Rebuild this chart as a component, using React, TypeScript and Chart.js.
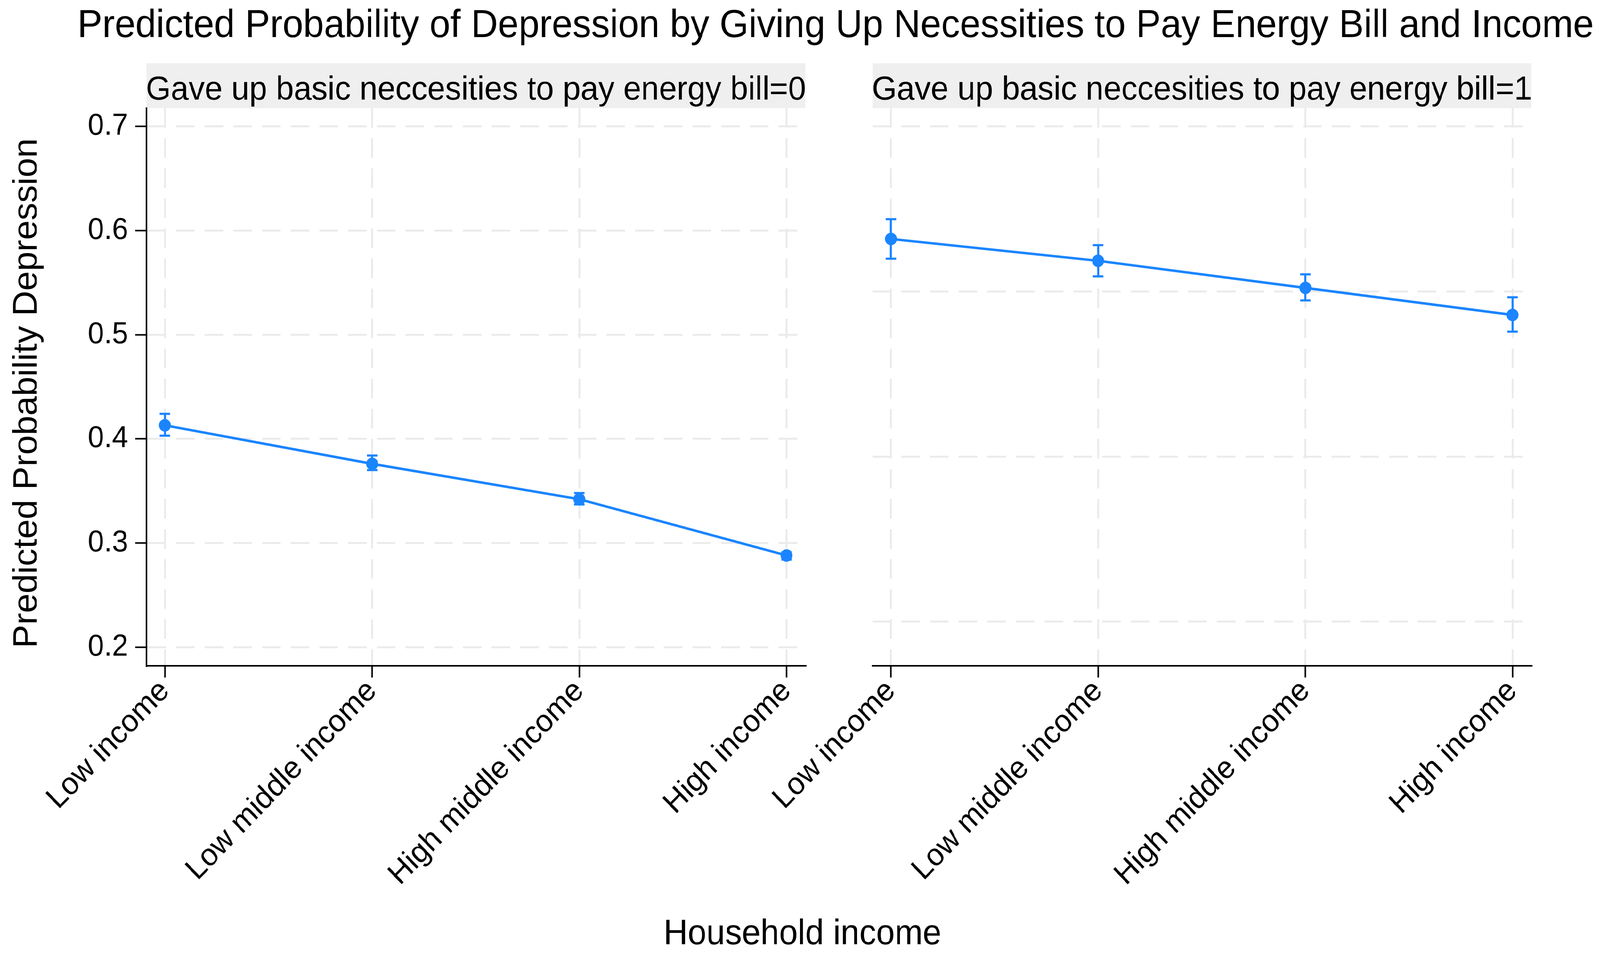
import React, { useRef, useEffect } from "react";
import { Chart, registerables, ChartConfiguration, Plugin } from "chart.js";

Chart.register(...registerables);

// categories and values
const incomeLevels = ["Low income", "Low middle income", "High middle income", "High income"];

const probNoGiveUp = [0.413, 0.376, 0.342, 0.288];
const lowerNoGiveUp = [0.403, 0.37, 0.337, 0.284];
const upperNoGiveUp = [0.424, 0.384, 0.348, 0.291];

const probGaveUp = [0.592, 0.571, 0.545, 0.519];
const lowerGaveUp = [0.573, 0.556, 0.533, 0.503];
const upperGaveUp = [0.611, 0.586, 0.558, 0.536];

const yTicks = [0.2, 0.3, 0.4, 0.5, 0.6, 0.7];
// the right panel's grid does not line up with the left axis ticks
const rightGridTicks = [0.2245, 0.383, 0.5415, 0.7];

const MAIN_TITLE =
  "Predicted Probability of Depression by Giving Up Necessities to Pay Energy Bill and Income";
const Y_TITLE = "Predicted Probability Depression";
const X_TITLE = "Household income";
const STRIP_0 = "Gave up basic neccesities to pay energy bill=0";
const STRIP_1 = "Gave up basic neccesities to pay energy bill=1";

const FONT = "'Liberation Sans', Arial, Helvetica, sans-serif";
const BLUE = "#1a85ff";
const GRID = "#ebebeb";
const W = 4293;
const H = 2443;
const RIGHT_LEFT = 2000;
const STRIP_TOP = 162;

Chart.defaults.font.family = FONT;

const buildConfig = (
  values: number[],
  lower: number[],
  upper: number[],
  stripLabel: string,
  isLeft: boolean
): ChartConfiguration<"line"> => {
  const errorBars: Plugin<"line"> = {
    id: "errorBars",
    beforeDatasetsDraw(chart) {
      const { ctx, scales } = chart;
      ctx.save();
      ctx.strokeStyle = BLUE;
      ctx.lineWidth = 5.5;
      values.forEach((_, i) => {
        const x = scales.x.getPixelForValue(i);
        const yLo = scales.y.getPixelForValue(lower[i]);
        const yHi = scales.y.getPixelForValue(upper[i]);
        ctx.beginPath();
        ctx.moveTo(x, yLo);
        ctx.lineTo(x, yHi);
        ctx.moveTo(x - 14, yLo);
        ctx.lineTo(x + 14, yLo);
        ctx.moveTo(x - 14, yHi);
        ctx.lineTo(x + 14, yHi);
        ctx.stroke();
      });
      ctx.restore();
    },
  };

  const panelText: Plugin<"line"> = {
    id: "panelText",
    beforeDraw(chart) {
      const { ctx, chartArea } = chart;
      ctx.save();
      ctx.fillStyle = "#efefef";
      ctx.fillRect(
        chartArea.left,
        STRIP_TOP,
        chartArea.right - chartArea.left,
        chartArea.top - STRIP_TOP
      );
      ctx.fillStyle = "#000";
      ctx.textAlign = "center";
      ctx.textBaseline = "alphabetic";
      ctx.font = `86px ${FONT}`;
      ctx.fillText(stripLabel, (chartArea.left + chartArea.right) / 2, 255);
      if (isLeft) {
        ctx.font = `100px ${FONT}`;
        ctx.fillText(MAIN_TITLE, 2242, 95);
        ctx.font = `90px ${FONT}`;
        ctx.fillText(X_TITLE, 2153, 2418);
        ctx.translate(98, 1007);
        ctx.rotate(-Math.PI / 2);
        ctx.fillText(Y_TITLE, 0, 0);
      }
      ctx.restore();
    },
  };

  return {
    type: "line",
    data: {
      datasets: [
        {
          data: values.map((v, i) => ({ x: i, y: v })),
          borderColor: BLUE,
          backgroundColor: BLUE,
          borderWidth: 6.5,
          tension: 0,
          pointRadius: 16,
          pointBorderWidth: 0,
          pointBackgroundColor: BLUE,
        },
      ],
    },
    options: {
      animation: false,
      responsive: false,
      events: [],
      layout: {
        padding: {
          top: 277,
          left: 0,
          bottom: 0,
          right: isLeft ? W - 2161 : W - RIGHT_LEFT - 2109,
        },
      },
      plugins: {
        legend: { display: false },
        tooltip: { enabled: false },
      },
      scales: {
        x: {
          type: "linear",
          min: -0.089,
          max: 3.091,
          afterBuildTicks: (s) => {
            s.ticks = incomeLevels.map((_, i) => ({ value: i }));
          },
          afterFit: (s) => {
            s.height = H - 1705;
          },
          ticks: {
            autoSkip: false,
            minRotation: 45,
            maxRotation: 45,
            padding: -12,
            color: "#000",
            font: { size: 80 },
            callback: (v) => incomeLevels[Number(v)] ?? "",
          },
          grid: {
            color: GRID,
            lineWidth: 5,
            tickLength: 30,
            tickColor: "#000",
            tickWidth: 4,
          },
          border: { display: true, color: "#000", width: 4, dash: [50, 27] },
        },
        y: {
          type: "linear",
          min: 0.182,
          max: 0.7176,
          afterBuildTicks: (s) => {
            s.ticks = (isLeft ? yTicks : rightGridTicks).map((v) => ({ value: v }));
          },
          afterFit: (s) => {
            s.width = isLeft ? 393 : 2341 - RIGHT_LEFT;
          },
          ticks: {
            display: isLeft,
            padding: 19,
            color: "#000",
            font: { size: 78 },
            callback: (v) => Number(v).toFixed(1),
          },
          grid: {
            color: GRID,
            lineWidth: 5,
            drawTicks: isLeft,
            tickLength: 30,
            tickColor: "#000",
            tickWidth: 4,
          },
          border: { display: isLeft, color: "#000", width: 4, dash: [50, 27] },
        },
      },
    },
    plugins: [panelText, errorBars],
  };
};

const App = () => {
  const leftRef = useRef<HTMLCanvasElement | null>(null);
  const rightRef = useRef<HTMLCanvasElement | null>(null);

  // the visible viewport can be narrower than the nominal size, so fit to it
  const sx = (window.innerWidth || W) / W;
  const sy = (window.innerHeight || H) / H;

  useEffect(() => {
    const charts: Chart[] = [];
    if (leftRef.current) {
      charts.push(
        new Chart(
          leftRef.current,
          buildConfig(probNoGiveUp, lowerNoGiveUp, upperNoGiveUp, STRIP_0, true)
        )
      );
    }
    if (rightRef.current) {
      charts.push(
        new Chart(
          rightRef.current,
          buildConfig(probGaveUp, lowerGaveUp, upperGaveUp, STRIP_1, false)
        )
      );
    }
    return () => {
      charts.forEach((c) => c.destroy());
    };
  }, []);

  return (
    <div
      style={{
        position: "fixed",
        left: 0,
        top: 0,
        width: "100vw",
        height: "100vh",
        overflow: "hidden",
        background: "#fff",
      }}
    >
      <div
        style={{
          position: "absolute",
          left: 0,
          top: 0,
          width: W,
          height: H,
          transform: `scale(${sx}, ${sy})`,
          transformOrigin: "0 0",
        }}
      >
        <canvas
          ref={leftRef}
          width={W}
          height={H}
          style={{ position: "absolute", left: 0, top: 0, width: W, height: H }}
        />
        <canvas
          ref={rightRef}
          width={W - RIGHT_LEFT}
          height={H}
          style={{
            position: "absolute",
            left: RIGHT_LEFT,
            top: 0,
            width: W - RIGHT_LEFT,
            height: H,
          }}
        />
      </div>
    </div>
  );
};

export default App;
